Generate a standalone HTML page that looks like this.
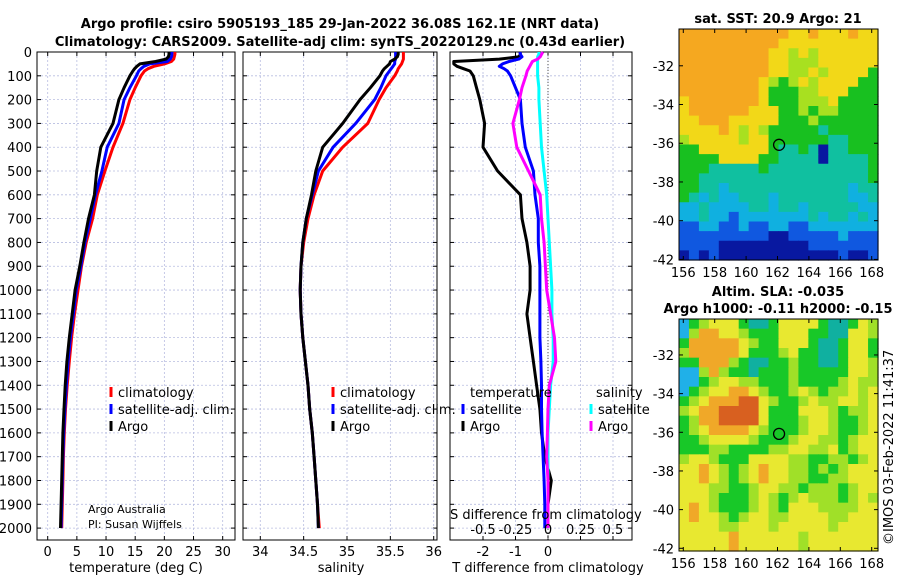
<!DOCTYPE html>
<html><head><meta charset="utf-8"><style>
body{margin:0;background:#fff;width:900px;height:580px;overflow:hidden;font-family:"DejaVu Sans","Liberation Sans",sans-serif}
svg text{font-family:"DejaVu Sans","Liberation Sans",sans-serif}
</style></head><body>
<svg id="c" width="900" height="580"></svg>
<script>
const depths=[0,10,20,30,40,50,60,70,80,100,150,200,300,400,500,600,700,800,900,1000,1100,1200,1300,1400,1500,1600,1700,1800,1900,2000];
const argoT=[20.8,20.8,20.7,20.3,18.5,15.8,15.3,14.9,14.6,14.1,13.1,12.2,11.2,9.1,8.4,8.0,7.0,6.2,5.5,4.7,4.2,3.7,3.3,3.0,2.8,2.6,2.5,2.4,2.3,2.2];
const satT=[21.3,21.3,21.2,21,20.5,17.5,16.5,16,15.6,15.2,14.1,13.1,12.2,10.2,9.3,8.2,7.3,6.4,5.7,4.9,4.4,3.9,3.5,3.2,2.95,2.75,2.6,2.5,2.4,2.3];
const climT=[21.8,21.8,21.7,21.6,21.2,20,18.2,17.2,16.6,16,15,14.1,12.9,11.2,9.8,8.5,7.7,6.6,5.8,5.2,4.6,4.1,3.7,3.35,3.05,2.85,2.7,2.6,2.5,2.4];
const argoS=[35.59,35.59,35.58,35.55,35.5,35.49,35.46,35.43,35.41,35.38,35.27,35.15,34.95,34.72,34.64,34.59,34.53,34.49,34.47,34.46,34.47,34.49,34.52,34.55,34.57,34.6,34.62,34.64,34.66,34.67];
const satS=[35.56,35.56,35.56,35.56,35.55,35.55,35.53,35.51,35.49,35.45,35.39,35.32,35.1,34.84,34.67,34.6,34.53,34.49,34.47,34.46,34.47,34.49,34.52,34.55,34.57,34.6,34.62,34.64,34.66,34.67];
const climS=[35.65,35.65,35.65,35.65,35.64,35.63,35.61,35.59,35.58,35.55,35.45,35.37,35.24,34.95,34.72,34.62,34.55,34.5,34.47,34.46,34.47,34.49,34.52,34.55,34.57,34.6,34.62,34.64,34.66,34.68];
const dTargo=[-0.86,-0.85,-0.9,-1.5,-2.9,-2.9,-2.8,-2.6,-2.4,-2.3,-2.2,-2.1,-1.95,-2.0,-1.55,-0.85,-0.8,-0.65,-0.55,-0.55,-0.65,-0.55,-0.45,-0.35,-0.25,-0.2,-0.1,0.1,0.0,0.0];
const dTsat=[-0.86,-0.85,-0.8,-0.9,-1.2,-1.4,-1.5,-1.35,-1.25,-1.15,-1.0,-0.85,-0.8,-0.7,-0.45,-0.4,-0.3,-0.3,-0.25,-0.25,-0.25,-0.25,-0.22,-0.2,-0.2,-0.18,-0.15,-0.12,-0.1,-0.1];
const dSargo=[-0.04,-0.05,-0.06,-0.08,-0.12,-0.13,-0.14,-0.15,-0.16,-0.17,-0.2,-0.22,-0.27,-0.24,-0.15,-0.06,-0.05,-0.03,-0.02,-0.01,0.02,0.05,0.06,0.01,0.0,-0.005,-0.01,0.0,0.0,0.0];
const dSsat=[-0.07,-0.07,-0.08,-0.08,-0.08,-0.08,-0.08,-0.08,-0.08,-0.08,-0.07,-0.07,-0.06,-0.05,-0.03,-0.01,0,0.01,0.02,0.03,0.03,0.04,0.04,0.02,0.01,0,0,0,0,0];
const depthTicks=[0,100,200,300,400,500,600,700,800,900,1000,1100,1200,1300,1400,1500,1600,1700,1800,1900,2000];
const tTicks=[0,5,10,15,20,25,30];
const sTicks=[34,34.5,35,35.5,36];
const sTickLabels=["34","34.5","35","35.5","36"];
const dTTicks=[-2,-1,0];
const dSTicks=[-0.5,-0.25,0,0.25,0.5];
const dSTickLabels=["-0.5","-0.25","0","0.25","0.5"];
const sstGrid=[
"OOOOOOOOOOOYYOYYYOYY","OOOOOOOOOOYYYYYYYYYY","OOOOOOOOOYYLYLYYYYYY","OOOOOOOOOYYLLLYYYYYY",
"OOOOOOOOOYYLLYLYYYYG","OOOOOOOOYLGLYLYYYYGG","OOOOOOOOYGGGLLYYYGGG","YOOOOOOOYGGGLLLYGGGG",
"YOOOOOOYYYGGLGLLGGGG","YYOOOYYYYYGGGLGGGGGG","YYYYOYLYLGGGGGTGGGGG","LYYYYYLYYGGGGGGTTGGG",
"GGYYYYYYYGTTGTDTTGGG","GGGGYYYYGGTTTTDTTTTG","GGGTTTTTGTTTTTTTTTTG","GGTTTTTTTTTTTTTTTTTG",
"GGTTCTTTTTTTTTTTTCTT","GTCTCCTTTCTTTTTTTCCT","CCTCCCCTTCTTCTTTTTCC","CCTCCBCCCCCCCTCTTCTC",
"BBCCBBCBBCCBBCCCCCCC","BBBBBBBBBDDBBBBBCBBB","BBBBDDDDDDDDDBBBBBBB","DBDBDDDDDDDDDDDDBDDB"];
const slaGrid=[
"CGLYYYGTTGYYYYGTTGYL","CLOOYYLGGGYYYGGTTYYL","GOOOOOYLGGYYYGTTGYYG","LOOOOOYGGGLYGGTTGYYG",
"GGOOOLGTTGGLGGTTGYYL","CCLOLGGTGGGLGGGGGYYL","CCGLYYLLGGGLGGGGLYLL","CGLYYOOYLGGLYLGLLYLY",
"GLYOOORRYLGGLYLLYYLY","LYOORRRRYGGGYYYLGLLY","GLOORRRRYGGGLYYLGGLY","GLYOOOOYLGGGLYYLGGLY",
"GGLYYYYLGGGLYYLLGLYY","GGGLLGGGGLLYYLLYGLYY","LYYLGGGYYYYLLGGLLGLY","YYOYLGLYOYYLLGLGLYYY",
"YYOYLGLYOYYLLGGLLYYY","YYYLLGGLYYLLGLLLGLYY","YYYLGGGLYLGLYLLLGLYL","YOYLGGGLYLGYYYLLLLYY",
"YOYYLGLYYLLYYYYLLYYY","YYYYLLYYYLYYYYYLYYYY","YYYYYOYYYYYYLYYYYYYY","YYYYYOYYYYYYLYYYYYYY"];
const lonTicks=[156,158,160,162,164,166,168];
const latTicks=[-32,-34,-36,-38,-40,-42];

const NS="http://www.w3.org/2000/svg";
const svg=document.getElementById('c');
function E(t,a,p){const e=document.createElementNS(NS,t);for(const k in a)e.setAttribute(k,a[k]);(p||svg).appendChild(e);return e;}
function T(x,y,s,a,p){const e=E('text',Object.assign({x:x,y:y,'font-size':13,fill:'#000'},a||{}),p);e.textContent=s;return e;}
const Y0=52,Y1=540;
const yD=d=>Y0+(d/2050)*(Y1-Y0);
const xT=t=>47.7+t*5.833;
const xS=s=>260.3+(s-34)*86.7;
const xDT=v=>548+v*32.5;
const xDS=v=>548+v*130;

function panel(name,x0,x1,vt,fx,tl){
  const g=E('g',{});
  
  
  depthTicks.forEach(d=>{E('line',{x1:x0,x2:x1,y1:yD(d),y2:yD(d),stroke:'#b8bde0','stroke-width':0.8,'stroke-dasharray':'2,2'},g);
    E('line',{x1:x0,x2:x0+4,y1:yD(d),y2:yD(d),stroke:'#000'},g);E('line',{x1:x1-4,x2:x1,y1:yD(d),y2:yD(d),stroke:'#000'},g);});
  vt.forEach((v,i)=>{const x=fx(v);E('line',{x1:x,x2:x,y1:Y0,y2:Y1,stroke:'#b8bde0','stroke-width':0.8,'stroke-dasharray':'2,2'},g);
    E('line',{x1:x,x2:x,y1:Y1-4,y2:Y1,stroke:'#000'},g);E('line',{x1:x,x2:x,y1:Y0,y2:Y0+4,stroke:'#000'},g);
    if(tl){const t=T(x,556,tl[i],{'text-anchor':'middle'},g);}});
  E('rect',{x:x0,y:Y0,width:x1-x0,height:Y1-Y0,fill:'none',stroke:'#000','stroke-width':1},g);
  return g;
}
function line(g,xs,f,col,name){
  const pts=depths.map((d,i)=>f(xs[i]).toFixed(1)+','+yD(d).toFixed(1)).join(' ');
  const p=E('polyline',{points:pts,fill:'none',stroke:col,'stroke-width':3,'stroke-linejoin':'round'},g);
  
  
}
let t=T(340,28,'Argo profile: csiro 5905193_185 29-Jan-2022 36.08S 162.1E (NRT data)',{'text-anchor':'middle','font-weight':'bold'});

t=T(340,46,'Climatology: CARS2009. Satellite-adj clim: synTS_20220129.nc (0.43d earlier)',{'text-anchor':'middle','font-weight':'bold'});

depthTicks.forEach(d=>{const t=T(32,yD(d)+5,String(d),{'text-anchor':'end'});});

const g1=panel('temperature-panel',37,235,tTicks,xT,tTicks.map(String));
line(g1,climT,xT,'#ff0000','climatology-temp-line');
line(g1,satT,xT,'#0000ff','satellite-temp-line');
line(g1,argoT,xT,'#000','argo-temp-line');
const g2=panel('salinity-panel',243,437,sTicks,xS,sTickLabels);
line(g2,climS,xS,'#ff0000','climatology-sal-line');
line(g2,satS,xS,'#0000ff','satellite-sal-line');
line(g2,argoS,xS,'#000','argo-sal-line');
const g3=panel('difference-panel',450,632,[-2,-1,0,1,2],xDT,null);
E('line',{x1:xDT(0),x2:xDT(0),y1:Y0,y2:Y1,stroke:'#555','stroke-dasharray':'1,2'},g3);
line(g3,dTargo,xDT,'#000','argo-temp-diff-line');
line(g3,dTsat,xDT,'#0000ff','satellite-temp-diff-line');
line(g3,dSsat,xDS,'#00ffff','satellite-sal-diff-line');
line(g3,dSargo,xDS,'#ff00ff','argo-sal-diff-line');
dTTicks.forEach(v=>{const t=T(xDT(v),556,String(v),{'text-anchor':'middle'});});
dSTicks.forEach((v,i)=>{const t=T(xDS(v),534,dSTickLabels[i],{'text-anchor':'middle'});});
t=T(450,519,'S difference from climatology');
t=T(136,572,'temperature (deg C)',{'text-anchor':'middle'});
t=T(341,572,'salinity',{'text-anchor':'middle'});
t=T(548,572,'T difference from climatology',{'text-anchor':'middle'});
function leg(x,y,col,s,name){const g=E('g',{});
  E('line',{x1:x,x2:x,y1:y-10,y2:y,stroke:col,'stroke-width':3},g);T(x+7,y,s,{},g);}
leg(111,397,'#ff0000','climatology','legend-climatology');
leg(111,414,'#0000ff','satellite-adj. clim.','legend-satellite-adj');
leg(111,431,'#000','Argo','legend-argo');
leg(333,397,'#ff0000','climatology','legend-climatology-sal');
leg(333,414,'#0000ff','satellite-adj. clim.','legend-satellite-adj-sal');
leg(333,431,'#000','Argo','legend-argo-sal');
t=T(470,397,'temperature');
leg(463,414,'#0000ff','satellite','legend-t-satellite');
leg(463,431,'#000','Argo','legend-t-argo');
t=T(596,397,'salinity');
leg(591,414,'#00ffff','satellite','legend-s-satellite');
leg(591,431,'#ff00ff','Argo','legend-s-argo');
t=T(88,513,'Argo Australia',{'font-size':11});
t=T(88,528,'PI: Susan Wijffels',{'font-size':11});

const CMAP1={O:'#f5a820',R:'#d8681a',Y:'#f2d818',L:'#a8e020',G:'#18c020',T:'#10c0a0',C:'#10b0e0',B:'#1058e0',D:'#0818a0'};
const CMAP2={O:'#f0a828',R:'#d86020',Y:'#e8e830',L:'#a0e028',G:'#18c828',T:'#10b0a0',C:'#20b0e8',B:'#1060e0',D:'#0818a0'};
function map(name,grid,cmap,x0,x1,y0,y1,latTop,latBot){
  const g=E('g',{});
  const rows=grid.length,cols=grid[0].length,cw=(x1-x0)/cols,ch=(y1-y0)/rows;
  grid.forEach((r,i)=>{for(let j=0;j<cols;j++){const c=E('rect',{x:x0+j*cw,y:y0+i*ch,width:cw+0.6,height:ch+0.6,fill:cmap[r[j]]},g);
    }});
  const xl=lon=>683.3+(lon-156)*15.7;
  const yl=lat=>y0+(latTop-lat)/(latTop-latBot)*(y1-y0);
  E('rect',{x:x0,y:y0,width:x1-x0,height:y1-y0,fill:'none',stroke:'#000'},g);
  lonTicks.forEach(l=>{E('line',{x1:xl(l),x2:xl(l),y1:y1-4,y2:y1,stroke:'#000'},g);E('line',{x1:xl(l),x2:xl(l),y1:y0,y2:y0+4,stroke:'#000'},g);
    const t=T(xl(l),y1+17,String(l),{'text-anchor':'middle'},g);});
  latTicks.forEach(l=>{E('line',{x1:x0,x2:x0+4,y1:yl(l),y2:yl(l),stroke:'#000'},g);E('line',{x1:x1-4,x2:x1,y1:yl(l),y2:yl(l),stroke:'#000'},g);
    const t=T(x0-5,yl(l)+5,String(l),{'text-anchor':'end'},g);});
  const m=E('circle',{cx:xl(162.1),cy:yl(-36.08),r:5.5,fill:'none',stroke:'#000','stroke-width':1.3},g);
  
}
map('sst-map',sstGrid,CMAP1,679,878,29,260,-30.1,-42.03);
map('sla-map',slaGrid,CMAP2,679,878,319,551,-30.14,-42.14);
t=T(778,23,'sat. SST: 20.9 Argo: 21',{'text-anchor':'middle','font-weight':'bold'});
t=T(778,296,'Altim. SLA: -0.035',{'text-anchor':'middle','font-weight':'bold'});
t=T(778,313,'Argo h1000: -0.11 h2000: -0.15',{'text-anchor':'middle','font-weight':'bold'});
t=T(0,0,'©IMOS 03-Feb-2022 11:41:37',{transform:'translate(893,545) rotate(-90)'});
</script>
</body></html>
